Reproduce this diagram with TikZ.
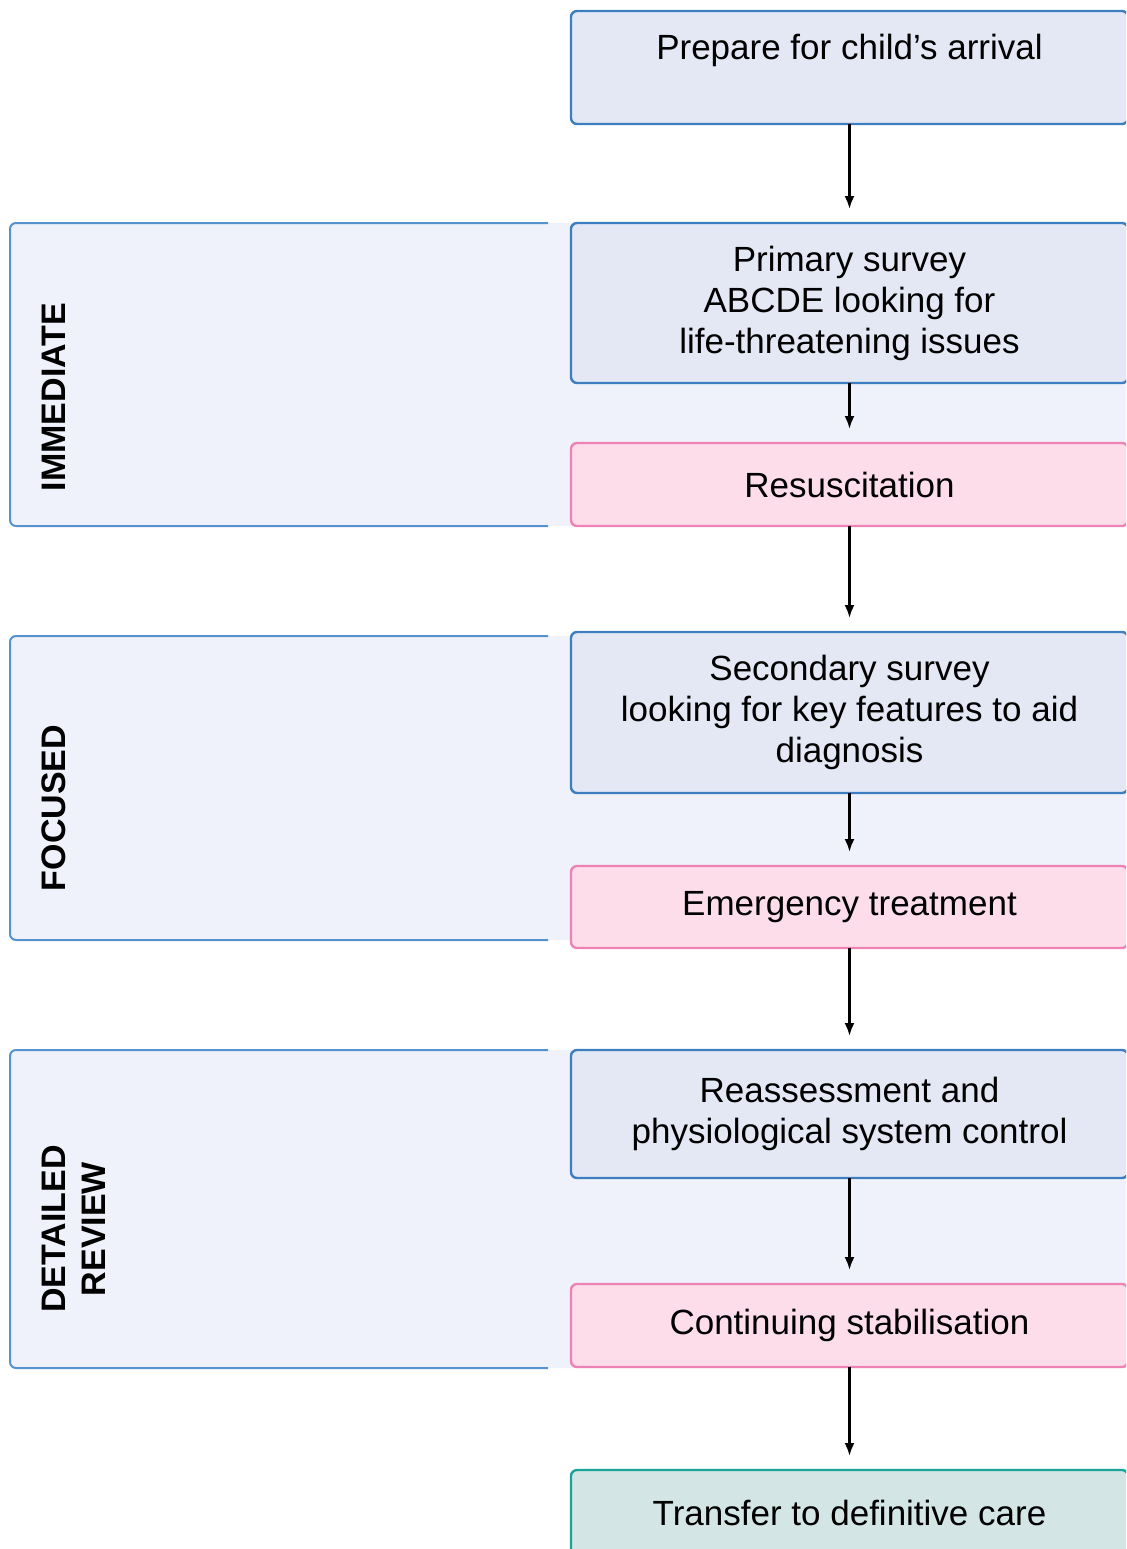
\documentclass[tikz,border=0pt]{standalone}
\usepackage{fontspec}
\setmainfont{Liberation Sans}
\usepackage{xcolor}
\usepackage{tikz}
\usetikzlibrary{arrows.meta}
\usetikzlibrary{positioning}
\definecolor{panelfill}{HTML}{EFF2FA}
\definecolor{panelline}{HTML}{5592CE}
\definecolor{surveyfill}{HTML}{E3E8F4}
\definecolor{surveyline}{HTML}{3D7EC0}
\definecolor{treatfill}{HTML}{FCDDE9}
\definecolor{treatline}{HTML}{EE82B5}
\definecolor{carefill}{HTML}{D3E6E5}
\definecolor{careline}{HTML}{1BA39A}
\tikzset{>={Latex[length=6.5pt, width=5pt]}}
\tikzset{flowbox/.style = {rectangle, rounded corners=3pt, line width=1.2pt, anchor=north,
  minimum width=278.5pt, align=center, inner sep=0pt, outer sep=0pt,
  font=\fontsize{17.5}{20.5}\selectfont}}
\tikzstyle{survey} = [flowbox, draw=surveyline, fill=surveyfill]
\tikzstyle{treat} = [flowbox, draw=treatline, fill=treatfill]
\tikzstyle{care} = [flowbox, draw=careline, fill=carefill]
\tikzstyle{phase} = [rotate=90, align=center, font=\fontsize{17}{20}\selectfont\bfseries]
\tikzstyle{flow} = [->, line width=1.2pt, draw=black, shorten >=7pt]

\begin{document}
\begin{tikzpicture}[x=0.5pt, y=-0.5pt]
\clip (0, 0) rectangle (1126, 1549);
% phase panels
\foreach \top/\bot in {223/526, 636/940, 1050/1368} {
  \fill [panelfill, rounded corners=3pt] (1140, \top) -- (10, \top) -- (10, \bot) -- (1140, \bot) -- cycle;
  \draw [panelline, line width=1pt, rounded corners=3pt] (548, \top) -- (10, \top) -- (10, \bot) -- (548, \bot);
}
\node [phase] (immediate) at (54, 397) {IMMEDIATE};
\node [phase] (focused) at (54, 808) {FOCUSED};
\node [phase] (detailed) at (74, 1229) {DETAILED\\REVIEW};
% steps
\node [survey, minimum height=56.5pt] (prep) at (849.5, 11) {Prepare for child's arrival\\ \mbox{}};
\node [survey, minimum height=80pt] (primary) at (849.5, 223) {Primary survey\\ABCDE looking for\\life-threatening issues};
\node [treat, minimum height=41.5pt] (resus) at (849.5, 443) {Resuscitation};
\node [survey, minimum height=80.5pt] (secondary) at (849.5, 632) {Secondary survey\\looking for key features to aid\\diagnosis};
\node [treat, minimum height=41pt] (emerg) at (849.5, 866) {Emergency treatment};
\node [survey, minimum height=64pt] (reassess) at (849.5, 1050) {Reassessment and\\physiological system control};
\node [treat, minimum height=41.5pt] (contin) at (849.5, 1284) {Continuing stabilisation};
\node [care, minimum height=43pt] (transfer) at (849.5, 1470) {Transfer to definitive care};
% arrows
\draw [flow] (prep) to (primary);
\draw [flow] (primary) to (resus);
\draw [flow] (resus) to (secondary);
\draw [flow] (secondary) to (emerg);
\draw [flow] (emerg) to (reassess);
\draw [flow] (reassess) to (contin);
\draw [flow] (contin) to (transfer);
\end{tikzpicture}
\end{document}
